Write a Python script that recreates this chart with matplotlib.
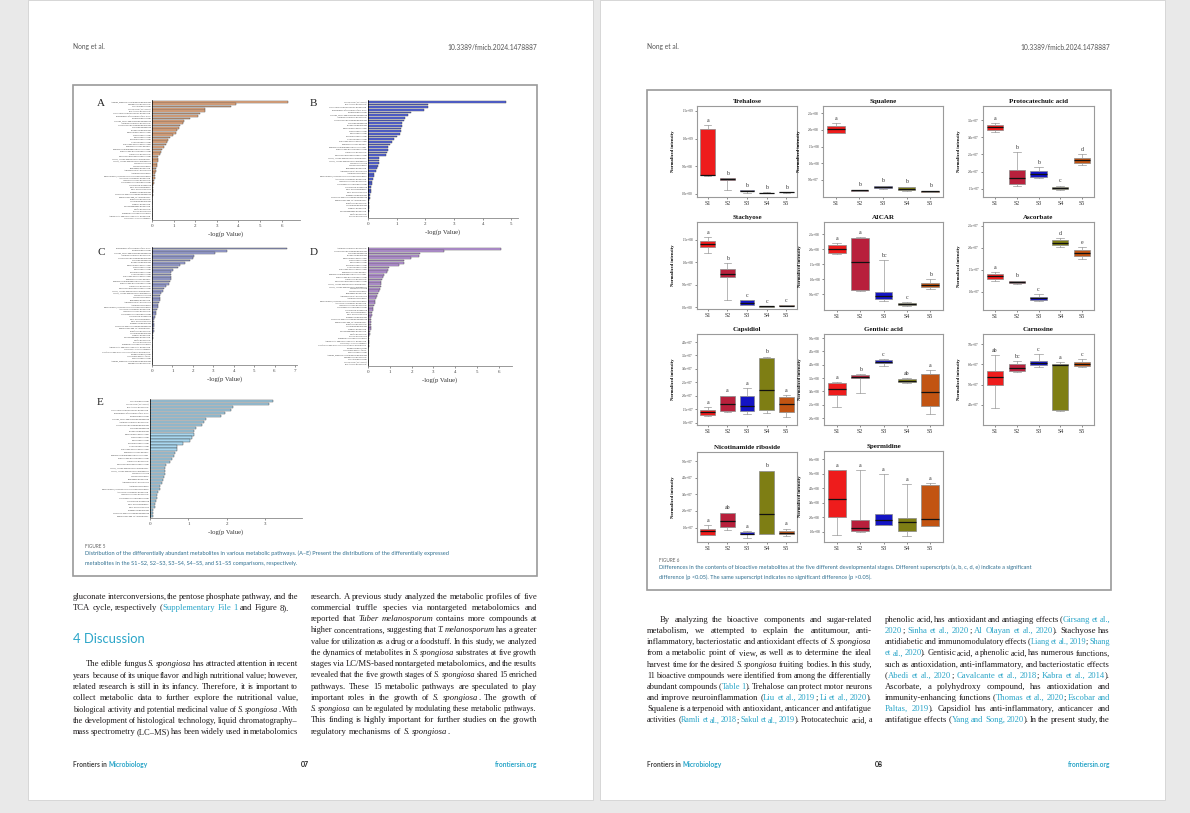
import numpy as np
import matplotlib.pyplot as plt
from matplotlib.patches import Rectangle

W, H = 1190, 813

# ---- figure 5 data: -log(p) per pathway, panels A-E ----
pathways = [
    "Alanine, aspartate and glutamate metabolism", "Sphingolipid metabolism",
    "Nitrogen metabolism", "Citrate cycle (TCA cycle)", "beta-Alanine metabolism",
    "Glyoxylate and dicarboxylate metabolism", "Biosynthesis of unsaturated fatty acids",
    "Pyruvate metabolism", "Glycine, serine and threonine metabolism",
    "Arginine and proline metabolism", "Cysteine and methionine metabolism",
    "Histidine metabolism", "Butanoate metabolism", "Phenylalanine metabolism",
    "Tyrosine metabolism", "Purine metabolism", "Pyrimidine metabolism",
    "Galactose metabolism", "Starch and sucrose metabolism", "Pentose phosphate pathway",
    "Pentose and glucuronate interconversions", "Fructose and mannose metabolism",
    "Glutathione metabolism", "Taurine and hypotaurine metabolism",
    "Valine, leucine and isoleucine biosynthesis", "Valine, leucine and isoleucine degradation",
    "Lysine degradation", "Lysine biosynthesis", "Tryptophan metabolism",
    "Aminoacyl-tRNA biosynthesis", "Arginine biosynthesis",
    "Phenylalanine, tyrosine and tryptophan biosynthesis", "Ascorbate and aldarate metabolism",
    "Inositol phosphate metabolism", "Glycerophospholipid metabolism", "Glycerolipid metabolism",
    "Fatty acid biosynthesis", "Fatty acid degradation", "Propanoate metabolism",
    "Nicotinate and nicotinamide metabolism", "Pantothenate and CoA biosynthesis",
    "Riboflavin metabolism", "Vitamin B6 metabolism", "Thiamine metabolism",
    "Selenocompound metabolism", "Sulfur metabolism", "Steroid biosynthesis",
    "Terpenoid backbone biosynthesis", "Amino sugar and nucleotide sugar metabolism",
    "Glycolysis / Gluconeogenesis", "Ubiquinone and other terpenoid-quinone biosynthesis",
    "Porphyrin metabolism", "One carbon pool by folate", "Methane metabolism",
]

vals_A = [6.3, 3.9, 3.65, 2.45, 2.45, 2.2, 2.15, 1.75, 1.5, 1.45, 1.3, 1.25, 1.15, 1.1,
          0.95, 0.85, 0.75, 0.7, 0.65, 0.55, 0.45, 0.4, 0.35, 0.3, 0.3, 0.28, 0.25, 0.22,
          0.2, 0.18, 0.15, 0.15, 0.12, 0.1, 0.08, 0.06, 0.05, 0.04, 0.03, 0.03, 0.02, 0.02,
          0.02, 0.01, 0.01, 0.01, 0.01, 0.01, 0.01, 0.01]
vals_B = [4.8, 2.1, 2.1, 1.95, 1.5, 1.4, 1.3, 1.25, 1.2, 1.2, 1.15, 1.15, 1.1, 1.0, 0.9,
          0.85, 0.75, 0.7, 0.68, 0.65, 0.62, 0.4, 0.38, 0.38, 0.36, 0.3, 0.28, 0.2, 0.2,
          0.18, 0.15, 0.15, 0.12, 0.1, 0.1, 0.08, 0.07, 0.05, 0.04, 0.03, 0.02, 0.02, 0.01, 0.01]
vals_C = [6.6, 3.65, 3.1, 2.05, 2.0, 1.85, 1.6, 1.35, 1.25, 1.05, 0.95, 0.95, 0.92, 0.92,
          0.9, 0.85, 0.7, 0.6, 0.55, 0.45, 0.4, 0.38, 0.38, 0.35, 0.3, 0.28, 0.25, 0.2,
          0.18, 0.15, 0.12, 0.1, 0.1, 0.1, 0.08, 0.08, 0.05, 0.04, 0.03, 0.02, 0.02, 0.02,
          0.01, 0.01, 0.01, 0.01, 0.01, 0.01, 0.01, 0.01]
vals_D = [6.1, 3.5, 2.4, 2.35, 1.95, 1.65, 1.65, 1.4, 0.95, 0.9, 0.85, 0.75, 0.7, 0.65,
          0.6, 0.6, 0.58, 0.55, 0.5, 0.45, 0.4, 0.35, 0.32, 0.3, 0.28, 0.25, 0.22, 0.2,
          0.18, 0.16, 0.15, 0.14, 0.13, 0.12, 0.12, 0.1, 0.08, 0.06, 0.05, 0.04, 0.03, 0.03,
          0.02, 0.02, 0.02, 0.01, 0.01, 0.01, 0.01, 0.01]
vals_E = [3.2, 3.1, 2.15, 2.1, 1.95, 1.85, 1.45, 1.4, 1.35, 1.2, 1.15, 1.15, 1.1, 1.05,
          0.85, 0.7, 0.7, 0.65, 0.62, 0.58, 0.52, 0.42, 0.4, 0.38, 0.38, 0.36, 0.35, 0.3,
          0.25, 0.25, 0.2, 0.18, 0.18, 0.15, 0.12, 0.12, 0.08, 0.08, 0.08]

# ---- figure 6 data: box stats per stage [whisker low, q1, median, q3, whisker high] ----
stages = ["S1", "S2", "S3", "S4", "S5"]
stage_colors = ["#ee1c1c", "#b8203c", "#1414c4", "#7e7e14", "#c25412"]

trehalose = [[3.2e8, 3.3e8, 3.3e8, 1.17e9, 1.24e9], [0.7e8, 2.5e8, 2.7e8, 2.8e8, 2.8e8],
             [2.0e7, 5.0e7, 5.4e7, 6.0e7, 6.0e7], [1.0e7, 1.2e7, 1.5e7, 2.0e7, 2.2e7],
             [2.0e7, 2.2e7, 2.5e7, 3.0e7, 3.0e7]]
squalene = [[1.92e8, 1.92e8, 2.04e8, 2.12e8, 2.2e8], [1.6e7, 1.7e7, 1.8e7, 2.0e7, 2.0e7],
            [2.2e7, 2.4e7, 2.7e7, 3.0e7, 3.2e7], [1.6e7, 2.0e7, 2.3e7, 2.7e7, 2.9e7],
            [1.3e7, 1.3e7, 1.5e7, 1.7e7, 1.7e7]]
protocatechuic = [[3.14e7, 3.2e7, 3.29e7, 3.35e7, 3.41e7], [1.59e7, 1.65e7, 1.82e7, 2.06e7, 2.56e7],
                  [1.82e7, 1.85e7, 1.94e7, 2.03e7, 2.12e7], [1.47e7, 1.5e7, 1.53e7, 1.56e7, 1.59e7],
                  [2.2e7, 2.26e7, 2.35e7, 2.41e7, 2.5e7]]
stachyose = [[1.21e8, 1.35e8, 1.42e8, 1.47e8, 1.56e8], [0.17e8, 0.67e8, 0.75e8, 0.86e8, 0.98e8],
             [0.5e7, 0.5e7, 1.0e7, 1.5e7, 1.5e7], [0.1e7, 0.15e7, 0.2e7, 0.3e7, 0.3e7],
             [0.25e7, 0.3e7, 0.35e7, 0.45e7, 0.45e7]]
aicar = [[1.83e8, 1.89e8, 2.0e8, 2.13e8, 2.22e8], [0.61e8, 0.63e8, 1.59e8, 2.37e8, 2.4e8],
         [0.28e8, 0.33e8, 0.44e8, 0.58e8, 1.63e8], [0.11e8, 0.14e8, 0.19e8, 0.22e8, 0.24e8],
         [0.69e8, 0.76e8, 0.82e8, 0.89e8, 1.0e8]]
ascorbate = [[1.25e7, 1.3e7, 1.36e7, 1.41e7, 1.45e7], [1.19e7, 1.2e7, 1.22e7, 1.25e7, 1.26e7],
             [0.8e7, 0.82e7, 0.86e7, 0.89e7, 0.95e7], [2.02e7, 2.07e7, 2.12e7, 2.18e7, 2.23e7],
             [1.75e7, 1.82e7, 1.89e7, 1.95e7, 2.02e7]]
capsidiol = [[1.25e7, 1.27e7, 1.38e7, 1.47e7, 1.57e7], [1.41e7, 1.43e7, 1.71e7, 1.99e7, 2.0e7],
             [1.31e7, 1.42e7, 1.6e7, 1.99e7, 2.29e7], [1.36e7, 1.46e7, 2.2e7, 3.42e7, 3.46e7],
             [1.2e7, 1.4e7, 1.68e7, 1.94e7, 2.02e7]]
gentisic = [[2.4e8, 2.875e8, 3.09e8, 3.3e8, 3.35e8], [2.94e8, 3.51e8, 3.55e8, 3.6e8, 3.64e8],
            [3.95e8, 4.05e8, 4.11e8, 4.18e8, 4.2e8], [3.31e8, 3.34e8, 3.4e8, 3.46e8, 3.49e8],
            [2.15e8, 2.45e8, 2.98e8, 3.66e8, 3.79e8]]
carnosine = [[3.85e7, 5.0e7, 5.35e7, 5.65e7, 6.45e7], [5.6e7, 5.65e7, 5.8e7, 6.0e7, 6.15e7],
             [5.85e7, 5.95e7, 6.05e7, 6.15e7, 6.5e7], [3.7e7, 3.75e7, 5.95e7, 6.0e7, 6.1e7],
             [5.85e7, 5.9e7, 6.0e7, 6.1e7, 6.25e7]]
nicotinamide = [[0.54e7, 0.58e7, 0.78e7, 0.94e7, 1.14e7], [0.88e7, 1.04e7, 1.38e7, 1.9e7, 1.9e7],
                [0.4e7, 0.6e7, 0.64e7, 0.72e7, 0.78e7], [0.6e7, 0.64e7, 1.84e7, 4.38e7, 4.42e7],
                [0.48e7, 0.62e7, 0.7e7, 0.8e7, 0.94e7]]
spermidine = [[0.82e8, 2.03e8, 3.29e8, 5.24e8, 5.24e8], [1.0e8, 1.07e8, 1.3e8, 1.8e8, 5.24e8],
              [1.5e8, 1.5e8, 1.8e8, 2.26e8, 5.0e8], [0.7e8, 1.07e8, 1.66e8, 1.94e8, 4.28e8],
              [1.41e8, 1.41e8, 1.92e8, 4.26e8, 4.37e8]]

sig_trehalose = ["a", "b", "b", "b", "b"]
sig_squalene = ["a", "b", "b", "b", "b"]
sig_protocatechuic = ["a", "b", "b", "c", "d"]
sig_stachyose = ["a", "b", "c", "c", "c"]
sig_aicar = ["a", "a", "bc", "c", "b"]
sig_ascorbate = ["a", "b", "c", "d", "e"]
sig_capsidiol = ["a", "a", "a", "b", "a"]
sig_gentisic = ["a", "b", "c", "ab", "a"]
sig_carnosine = ["ab", "bc", "c", "a", "c"]
sig_nicotinamide = ["a", "ab", "a", "b", "a"]
sig_spermidine = ["a", "a", "a", "a", "a"]

# ---- page text ----
left_c1_top = [
    "gluconate interconversions, the pentose phosphate pathway, and the",
    "TCA cycle, respectively ([Supplementary File 1] and Figure 8).",
]
left_c1_para = [
    "The edible fungus *S. spongiosa* has attracted attention in recent",
    "years because of its unique flavor and high nutritional value; however,",
    "related research is still in its infancy. Therefore, it is important to",
    "collect metabolic data to further explore the nutritional value,",
    "biological activity and potential medicinal value of *S. spongiosa*. With",
    "the development of histological technology, liquid chromatography\u2013",
    "mass spectrometry (LC\u2013MS) has been widely used in metabolomics",
]
left_c2 = [
    "research. A previous study analyzed the metabolic profiles of five",
    "commercial truffle species via nontargeted metabolomics and",
    "reported that *Tuber melanosporum* contains more compounds at",
    "higher concentrations, suggesting that *T. melanosporum* has a greater",
    "value for utilization as a drug or a foodstuff. In this study, we analyzed",
    "the dynamics of metabolites in *S. spongiosa* substrates at five growth",
    "stages via LC/MS-based nontargeted metabolomics, and the results",
    "revealed that the five growth stages of *S. spongiosa* shared 15 enriched",
    "pathways. These 15 metabolic pathways are speculated to play",
    "important roles in the growth of *S. spongiosa*. The growth of",
    "*S. spongiosa* can be regulated by modulating these metabolic pathways.",
    "This finding is highly important for further studies on the growth",
    "regulatory mechanisms of *S. spongiosa*.",
]
right_c1 = [
    "By analyzing the bioactive components and sugar-related",
    "metabolism, we attempted to explain the antitumour, anti-",
    "inflammatory, bacteriostatic and antioxidant effects of *S. spongiosa*",
    "from a metabolic point of view, as well as to determine the ideal",
    "harvest time for the desired *S. spongiosa* fruiting bodies. In this study,",
    "11 bioactive compounds were identified from among the differentially",
    "abundant compounds ([Table 1]). Trehalose can protect motor neurons",
    "and improve neuroinflammation ([Liu et al., 2019]; [Li et al., 2020]).",
    "Squalene is a terpenoid with antioxidant, anticancer and antifatigue",
    "activities ([Ramli et al., 2018]; [Sakul et al., 2019]). Protocatechuic acid, a",
]
right_c2 = [
    "phenolic acid, has antioxidant and antiaging effects ([Girsang et al.,]",
    "[2020]; [Sinha et al., 2020]; [Al Olayan et al., 2020]). Stachyose has",
    "antidiabetic and immunomodulatory effects ([Liang et al., 2019]; [Shang]",
    "[et al., 2020]). Gentisic acid, a phenolic acid, has numerous functions,",
    "such as antioxidation, anti-inflammatory, and bacteriostatic effects",
    "([Abedi et al., 2020]; [Cavalcante et al., 2018]; [Kabra et al., 2014]).",
    "Ascorbate, a polyhydroxy compound, has antioxidation and",
    "immunity-enhancing functions ([Thomas et al., 2020]; [Escobar and]",
    "[Paltas, 2019]). Capsidiol has anti-inflammatory, anticancer and",
    "antifatigue effects ([Yang and Song, 2020]). In the present study, the",
]

LINK = "#2aa5c8"
INK = "#1e1a1b"
SERIF = "Liberation Serif"
SANS = "Lato"
BODY = 6.2

fig = plt.figure(figsize=(W / 100, H / 100), dpi=100, facecolor="#e9e9e9")
bg = fig.add_axes([0, 0, 1, 1])
bg.set_xlim(0, W)
bg.set_ylim(H, 0)
bg.axis("off")
renderer = fig.canvas.get_renderer()


def px_axes(x0, y0, x1, y1):
    return fig.add_axes([x0 / W, 1 - y1 / H, (x1 - x0) / W, (y1 - y0) / H])


# pages and figure boxes
for px in (28, 600):
    bg.add_patch(Rectangle((px, 0), 565, 800, fc="white", ec="#d2d2d2", lw=0.6))
bg.add_patch(Rectangle((73, 85), 464, 491, fc="none", ec="#9a9a9a", lw=1.2))
bg.add_patch(Rectangle((647, 90), 464, 500, fc="none", ec="#9a9a9a", lw=1.2))


def parse(line):
    runs, buf, it, link = [], "", False, False
    for ch in line:
        if ch in "*[]":
            if buf:
                runs.append((buf, it, link))
                buf = ""
            if ch == "*":
                it = not it
            else:
                link = ch == "["
        else:
            buf += ch
    if buf:
        runs.append((buf, it, link))
    units = [[]]
    for txt, it, link in runs:
        for i, p in enumerate(txt.split(" ")):
            if i > 0:
                units.append([])
            if p:
                units[-1].append((p, it, link))
    return [u for u in units if u]


def draw_line(x0, x1, y, line, justify=True, indent=0, size=BODY, family=SERIF, color=INK):
    objs = []
    for u in parse(line):
        row = []
        for txt, it, link in u:
            row.append(bg.text(0, y, txt, fontsize=size, family=family,
                               style="italic" if it else "normal",
                               color=LINK if link else color, va="center", ha="left"))
        objs.append(row)
    widths = [[t.get_window_extent(renderer).width for t in row] for row in objs]
    total = sum(sum(w) for w in widths)
    space = size * 100 / 72 * 0.26
    avail = x1 - x0 - indent
    need = total + space * 0.55 * (len(objs) - 1)
    if need > avail:
        k = avail / need
        for row in objs:
            for t in row:
                t.set_fontsize(size * k)
        widths = [[w * k for w in ws] for ws in widths]
        total *= k
    gap = space
    if justify and len(objs) > 1:
        gap = (avail - total) / (len(objs) - 1)
    x = x0 + indent
    for row, ws in zip(objs, widths):
        for t, w in zip(row, ws):
            t.set_x(x)
            x += w
        x += gap


def block(lines, x0, x1, y0, dy, indent=0, last_justified=False):
    for i, ln in enumerate(lines):
        just = last_justified or i < len(lines) - 1
        draw_line(x0, x1, y0 + i * dy, ln, justify=just, indent=indent if i == 0 else 0)


def runs_text(x, y, parts, size, ha="left"):
    objs = [bg.text(0, y, t, fontsize=size, family=SANS, color=c, weight=wt, va="center")
            for t, c, wt in parts]
    ws = [o.get_window_extent(renderer).width for o in objs]
    if ha == "right":
        x -= sum(ws)
    elif ha == "center":
        x -= sum(ws) / 2
    for o, w in zip(objs, ws):
        o.set_x(x)
        x += w


# headers and footers
for x0, x1, pg in ((73, 537, "07"), (647, 1110, "08")):
    bg.text(x0, 47, "Nong et al.", fontsize=4.8, family=SANS, color="#555555", va="center")
    bg.text(x1, 47, "10.3389/fmicb.2024.1478887", fontsize=4.8, family=SANS,
            color="#555555", va="center", ha="right")
    runs_text(x0, 764, [("Frontiers in ", "#444444", "bold"), ("Microbiology", LINK, "bold")], 4.8)
    bg.text((x0 + x1) / 2, 764, pg, fontsize=5, family=SANS, color="#222222",
            weight="bold", va="center", ha="center")
    bg.text(x1, 764, "frontiersin.org", fontsize=4.8, family=SANS, color=LINK,
            weight="bold", va="center", ha="right")

# body text
block(left_c1_top, 73, 298, 596.7, 11.3)
bg.text(73, 639, "4 Discussion", fontsize=9.4, family=SANS, color=LINK, va="center")
block(left_c1_para, 73, 298, 664.3, 11.3, indent=13, last_justified=True)
block(left_c2, 311, 537, 596.7, 11.25)
block(right_c1, 647, 872, 620, 11.15, indent=13, last_justified=True)
block(right_c2, 885, 1110, 620, 11.15, last_justified=True)

# captions
CAP = "#2f6f90"
bg.text(85, 546, "FIGURE 5", fontsize=3.4, family=SANS, color="#666666", va="center")
runs_text(85, 553.5, [("Distribution of the differentially abundant metabolites in various metabolic "
                       "pathways. (A\u2013E) Present the distributions of the differentially expressed",
                       CAP, "normal")], 4.05)
runs_text(85, 563.5, [("metabolites in the S1\u2013S2, S2\u2013S3, S3\u2013S4, S4\u2013S5, and S1\u2013S5 "
                       "comparisons, respectively.", CAP, "normal")], 4.05)
bg.text(659, 560, "FIGURE 6", fontsize=3.4, family=SANS, color="#666666", va="center")
runs_text(659, 567.5, [("Differences in the contents of bioactive metabolites at the five different "
                        "developmental stages. Different superscripts (a, b, c, d, e) indicate a significant",
                        CAP, "normal")], 4.05)
runs_text(659, 577, [("difference (p <0.05). The same superscript indicates no significant "
                      "difference (p >0.05).", CAP, "normal")], 4.05)

# ---- figure 5 bar panels ----
bar_panels = [
    ("A", vals_A, "#f4b487", (152, 100, 300, 220), 6.85, 0, (97, 103)),
    ("B", vals_B, "#5466e6", (368, 100, 518, 218), 5.23, 3, (310, 103)),
    ("C", vals_C, "#a3abe4", (152, 247, 297, 365), 7.1, 6, (97, 252)),
    ("D", vals_D, "#c69ee9", (368, 247, 512, 366), 6.6, 9, (310, 252)),
    ("E", vals_E, "#a9d7ef", (150, 399, 302, 518), 3.95, 2, (97, 402)),
]
for letter, vals, col, box, xmax, shift, lpos in bar_panels:
    ax = px_axes(*box)
    n = len(vals)
    names = (pathways[shift:] + pathways[:shift])[:n]
    y = np.arange(n)
    ax.barh(y, vals, height=0.72, color=col, edgecolor="#3a3a3a", linewidth=0.3)
    ax.set_ylim(n - 0.4, -0.7)
    ax.set_xlim(0, xmax)
    ax.set_yticks(y)
    ax.set_yticklabels(names, fontsize=1.55, family=SERIF, color="#333333")
    ax.set_xticks(range(int(xmax) + 1))
    ax.tick_params(axis="y", length=0, pad=1)
    ax.tick_params(axis="x", length=1.5, width=0.4, pad=1.5, labelsize=3.6,
                   colors="#444444", labelfontfamily=SERIF)
    for s in ("top", "right"):
        ax.spines[s].set_visible(False)
    ax.spines["left"].set_linewidth(0.5)
    ax.spines["bottom"].set_linewidth(0.6)
    ax.spines["bottom"].set_color("#888888")
    ax.patch.set_alpha(0)
    ax.set_xlabel("-log(p Value)", fontsize=4.8, family=SERIF, labelpad=2, color="#333333")
    bg.text(lpos[0], lpos[1], letter, fontsize=8, family=SERIF, color="#222222", va="center")

# ---- figure 6 box panels ----
box_panels = [
    ("Trehalose", trehalose, sig_trehalose, (697, 106, 797, 197), (-0.06e9, 1.59e9), [0, 5e8, 1e9, 1.5e9]),
    ("Squalene", squalene, sig_squalene, (823, 106, 943, 197), (-2e6, 2.72e8), [5e7, 1e8, 1.5e8, 2e8, 2.5e8]),
    ("Protocatechuic acid", protocatechuic, sig_protocatechuic, (983, 106, 1094, 197), (1.26e7, 3.91e7),
     [1.5e7, 2e7, 2.5e7, 3e7, 3.5e7]),
    ("Stachyose", stachyose, sig_stachyose, (697, 222, 797, 309), (-0.4e7, 1.9e8), [0, 5e7, 1e8, 1.5e8]),
    ("AICAR", aicar, sig_aicar, (824, 222, 943, 310), (-0.02e8, 2.91e8), [5e7, 1e8, 1.5e8, 2e8, 2.5e8]),
    ("Ascorbate", ascorbate, sig_ascorbate, (983, 222, 1094, 310), (0.59e7, 2.59e7), [1e7, 1.5e7, 2e7, 2.5e7]),
    ("Capsidiol", capsidiol, sig_capsidiol, (697, 334, 797, 425), (0.91e7, 4.3e7),
     [1e7, 1.5e7, 2e7, 2.5e7, 3e7, 3.5e7, 4e7]),
    ("Gentisic acid", gentisic, sig_gentisic, (824, 334, 943, 425), (1.74e8, 5.15e8),
     [2e8, 2.5e8, 3e8, 3.5e8, 4e8, 4.5e8, 5e8]),
    ("Carnosine", carnosine, sig_carnosine, (983, 334, 1094, 425), (3.0e7, 7.5e7), [4e7, 5e7, 6e7, 7e7]),
    ("Nicotinamide riboside", nicotinamide, sig_nicotinamide, (697, 452, 797, 542), (0.14e7, 5.54e7),
     [1e7, 2e7, 3e7, 4e7, 5e7]),
    ("Spermidine", spermidine, sig_spermidine, (824, 451, 943, 542), (0.31e8, 6.57e8),
     [1e8, 2e8, 3e8, 4e8, 5e8, 6e8]),
]
for title, data, sig, box, ylim, yt in box_panels:
    ax = px_axes(*box)
    stats = [dict(whislo=d[0], q1=d[1], med=d[2], q3=d[3], whishi=d[4], fliers=[]) for d in data]
    res = ax.bxp(stats, positions=range(1, 6), widths=0.75, patch_artist=True, showfliers=False,
                 boxprops=dict(edgecolor="#8a8a8a", linewidth=0.5),
                 medianprops=dict(color="#111111", linewidth=0.9),
                 whiskerprops=dict(color="#9a9a9a", linewidth=0.5),
                 capprops=dict(color="#9a9a9a", linewidth=0.5))
    for patch, c in zip(res["boxes"], stage_colors):
        patch.set_facecolor(c)
    ax.set_xlim(0.45, 5.55)
    ax.set_ylim(*ylim)
    ax.set_yticks(yt)
    ax.set_yticklabels([f"{v:.1e}" for v in yt], fontsize=2.3, family=SERIF)
    ax.set_xticks(range(1, 6))
    ax.set_xticklabels(stages, fontsize=4.3, family=SERIF)
    ax.tick_params(length=1.5, width=0.4, pad=1.5, colors="#333333")
    for s in ax.spines.values():
        s.set_color("#9a9a9a")
        s.set_linewidth(0.8)
    off = (ylim[1] - ylim[0]) * 0.025
    for i, (d, s) in enumerate(zip(data, sig)):
        ax.text(i + 1, d[4] + off, s, ha="center", va="bottom", fontsize=4.2, family=SERIF, color="#333333")
    ax.set_title(title, fontsize=5, family=SERIF, weight="bold", pad=2, color="#111111")
    ax.set_ylabel("Normalized intensity", fontsize=3.3, family=SERIF, weight="bold", labelpad=5)

fig.savefig("out.png", dpi=100, facecolor=fig.get_facecolor())
